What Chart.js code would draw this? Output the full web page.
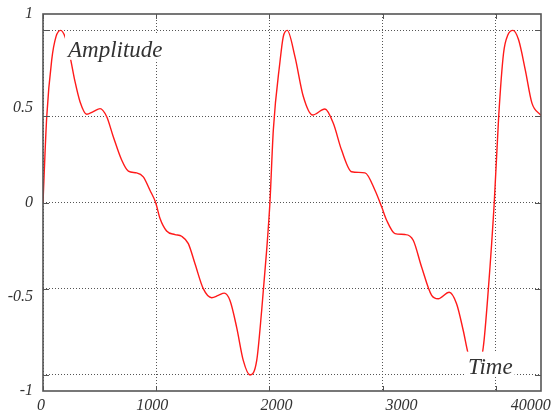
<!DOCTYPE html>
<html>
<head>
<meta charset="utf-8">
<title>Amplitude / Time</title>
<script src="https://cdn.jsdelivr.net/npm/chart.js@4.4.1/dist/chart.umd.min.js"></script>
<style>
  html, body { margin: 0; padding: 0; background: #fff; }
  canvas { display: block; }
</style>
</head>
<body>
<canvas id="waveChart" width="558" height="412"></canvas>
<script>
// samples, time in units of the dotted grid (1000 per cell)
const timeValues = [
  0, 33, 77, 115, 156, 194, 239, 283, 327, 386, 444, 504, 563, 621, 695, 754, 827, 886, 945,
  995, 1034, 1092, 1166, 1225, 1284, 1343, 1416, 1490, 1549, 1602, 1652, 1711, 1770, 1829, 1888, 1932, 1976,
  2005, 2035, 2094, 2123, 2158, 2226, 2300, 2382, 2491, 2565, 2638, 2727, 2845, 2933,
  2992, 3036, 3110, 3198, 3271, 3345, 3434, 3492, 3589, 3654, 3713, 3757, 3825, 3890, 3934,
  3987, 4026, 4069, 4108, 4152, 4202, 4261, 4320, 4400
];
const amplitudeValues = [
  0, 0.455, 0.757, 0.88, 0.913, 0.88, 0.774, 0.641, 0.535, 0.468, 0.482, 0.498, 0.455, 0.349, 0.225, 0.166, 0.157, 0.136, 0.065,
  0, -0.085, -0.151, -0.17, -0.179, -0.218, -0.325, -0.457, -0.505, -0.493, -0.481, -0.52, -0.662, -0.839, -0.915, -0.839, -0.573, -0.254,
  0, 0.385, 0.748, 0.88, 0.913, 0.774, 0.562, 0.464, 0.496, 0.42, 0.278, 0.163, 0.157, 0.065,
  -0.023, -0.094, -0.165, -0.17, -0.2, -0.342, -0.493, -0.511, -0.476, -0.537, -0.679, -0.803, -0.915, -0.768, -0.466,
  0, 0.455, 0.792, 0.89, 0.913, 0.863, 0.704, 0.527, 0.462
];

const xTickLabels = ["0", "1000", "2000", "3000", "40000"];
const xGridValues = [0, 1000, 2000, 3000, 4000];
const yTickValues = [1, 0.5, 0, -0.5, -1];
const yGridValues = [0.915, 0.4575, 0, -0.4575, -0.915];

const notes = [
  { text: "Amplitude", t: 221, a: 0.773 },
  { text: "Time", t: 3754, a: -0.908 }
];

const textColor = '#333';
const lineGray = '#555';
const tickFont = { family: '"Liberation Serif", serif', style: 'italic', size: 16 };
// where the x labels sit, they drift off the grid lines in the picture
const xLabelAt = [-18, 965, 2062, 3168, 4310];

const framePlugin = {
  id: 'frame',
  afterDraw(chart) {
    const { ctx, chartArea: a, scales } = chart;
    ctx.save();
    ctx.strokeStyle = lineGray;
    ctx.lineWidth = 1;
    ctx.beginPath();
    scales.x.ticks.forEach(tk => {
      const px = Math.round(scales.x.getPixelForValue(tk.value)) + 0.5;
      ctx.moveTo(px, a.bottom); ctx.lineTo(px, a.bottom - 5);
      ctx.moveTo(px, a.top); ctx.lineTo(px, a.top + 5);
    });
    scales.yGrid.ticks.forEach(tk => {
      const py = Math.round(scales.yGrid.getPixelForValue(tk.value)) + 0.5;
      ctx.moveTo(a.left, py); ctx.lineTo(a.left + 6, py);
      ctx.moveTo(a.right, py); ctx.lineTo(a.right - 6, py);
    });
    ctx.stroke();
    ctx.lineWidth = 1.6;
    ctx.strokeRect(a.left, a.top, a.right - a.left, a.bottom - a.top);

    ctx.font = 'italic 23px "Liberation Serif", serif';
    ctx.textBaseline = 'alphabetic';
    notes.forEach(n => {
      const x = scales.x.getPixelForValue(n.t);
      const y = scales.y.getPixelForValue(n.a);
      const w = ctx.measureText(n.text).width;
      ctx.fillStyle = '#fff';
      ctx.fillRect(x - 3, y - 22, w + 5, 25);
      ctx.fillStyle = textColor;
      ctx.fillText(n.text, x, y);
    });
    ctx.restore();
  }
};

new Chart(document.getElementById('waveChart').getContext('2d'), {
  type: 'line',
  data: {
    datasets: [{
      data: timeValues.map((t, i) => ({ x: t, y: amplitudeValues[i] })),
      borderColor: '#ff1a1a',
      borderWidth: 1.4,
      pointRadius: 0,
      fill: false,
      cubicInterpolationMode: 'monotone',
      xAxisID: 'x',
      yAxisID: 'y'
    }]
  },
  options: {
    responsive: false,
    animation: false,
    layout: { padding: { left: 0, top: 14, right: 17, bottom: 0 } },
    plugins: { legend: { display: false }, tooltip: { enabled: false } },
    scales: {
      x: {
        type: 'linear', position: 'bottom', min: 0, max: 4400,
        afterBuildTicks: s => { s.ticks = xGridValues.map(v => ({ value: v })); },
        ticks: { display: false },
        grid: { color: lineGray, lineWidth: 1, drawTicks: false },
        border: { display: false, dash: [1, 2] },
        afterFit: s => { s.height = 0; s.paddingLeft = 0; s.paddingRight = 0; }
      },
      xLabels: {
        type: 'linear', position: 'bottom', min: 0, max: 4400,
        afterBuildTicks: s => { s.ticks = xLabelAt.map(v => ({ value: v })); },
        ticks: {
          autoSkip: false, maxRotation: 0, padding: 5, color: textColor, font: tickFont,
          callback: (v, i) => xTickLabels[i]
        },
        grid: { display: false, drawTicks: false },
        border: { display: false },
        afterFit: s => { s.height = 21; s.paddingLeft = 0; s.paddingRight = 0; }
      },
      y: {
        type: 'linear', position: 'left', min: -1, max: 1,
        afterBuildTicks: s => { s.ticks = yTickValues.map(v => ({ value: v })); },
        ticks: { padding: 10, color: textColor, font: tickFont, callback: v => String(v) },
        grid: { display: false, drawTicks: false },
        border: { display: false },
        afterFit: s => { s.width = 43; s.paddingTop = 0; s.paddingBottom = 0; }
      },
      yGrid: {
        type: 'linear', position: 'left', min: -1, max: 1,
        afterBuildTicks: s => { s.ticks = yGridValues.map(v => ({ value: v })); },
        ticks: { display: false },
        grid: { color: lineGray, lineWidth: 1, drawTicks: false },
        border: { display: false, dash: [1, 2] },
        afterFit: s => { s.width = 0; s.paddingTop = 0; s.paddingBottom = 0; }
      }
    }
  },
  plugins: [framePlugin]
});
</script>
</body>
</html>
